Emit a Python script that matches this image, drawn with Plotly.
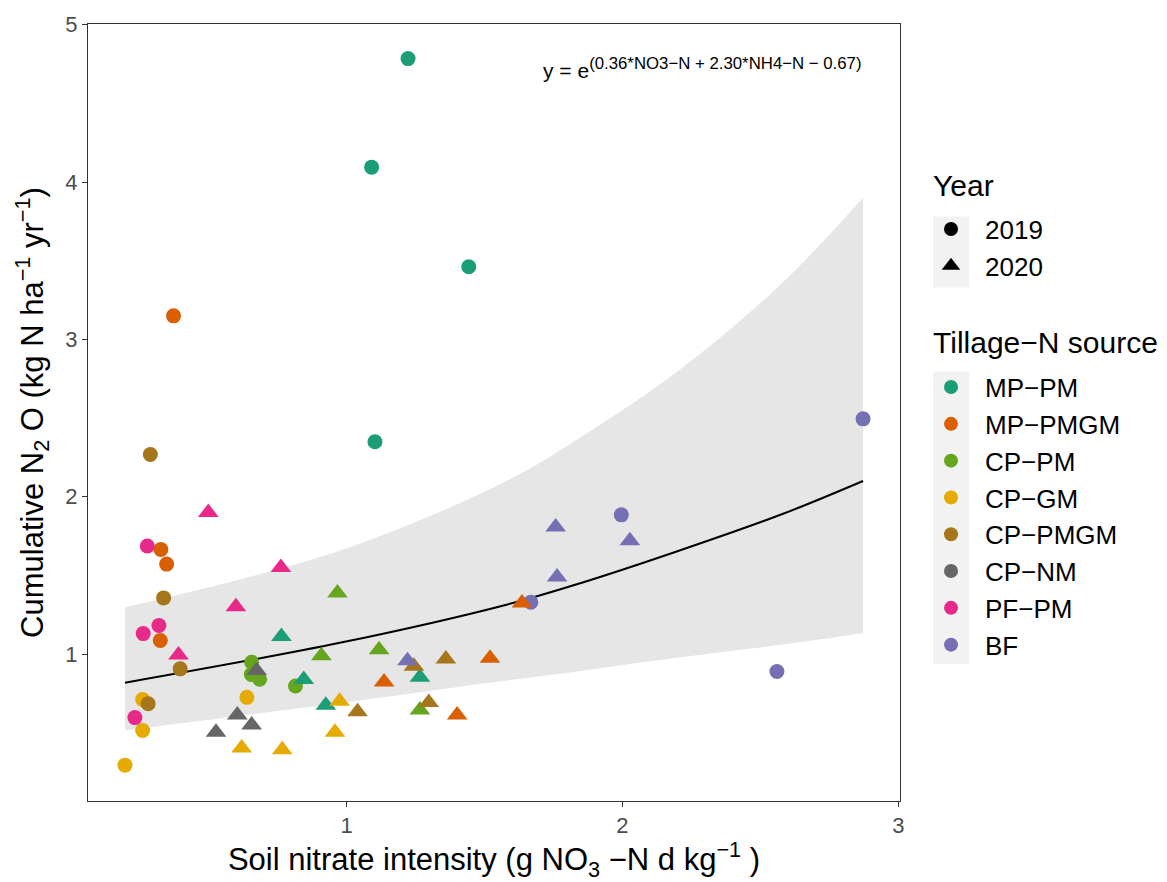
import plotly.graph_objects as go

# ---------------- data ----------------
groups = ["MP\u2212PM", "MP\u2212PMGM", "CP\u2212PM", "CP\u2212GM", "CP\u2212PMGM", "CP\u2212NM", "PF\u2212PM", "BF"]
group_colors = ["#1B9E77", "#D95F02", "#66A61E", "#E6AB02", "#A6761D", "#666666", "#E7298A", "#7570B3"]
years = ["2019", "2020"]

pt_group = (
    ["MP\u2212PM"] * 8 + ["MP\u2212PMGM"] * 8 + ["CP\u2212PM"] * 8 + ["CP\u2212GM"] * 8
    + ["CP\u2212PMGM"] * 8 + ["CP\u2212NM"] * 4 + ["PF\u2212PM"] * 8 + ["BF"] * 8
)
pt_year = (
    ["2019"] * 4 + ["2020"] * 4      # MP-PM
    + ["2019"] * 4 + ["2020"] * 4    # MP-PMGM
    + ["2019"] * 4 + ["2020"] * 4    # CP-PM
    + ["2019"] * 4 + ["2020"] * 4    # CP-GM
    + ["2019"] * 4 + ["2020"] * 4    # CP-PMGM
    + ["2020"] * 4                   # CP-NM
    + ["2019"] * 4 + ["2020"] * 4    # PF-PM
    + ["2019"] * 4 + ["2020"] * 4    # BF
)
nitrate = [
    1.223, 1.091, 1.443, 1.103, 0.764, 0.845, 0.925, 1.266,
    0.373, 0.327, 0.348, 0.325, 1.636, 1.136, 1.520, 1.401,
    0.656, 0.655, 0.685, 0.815, 0.967, 0.909, 1.118, 1.266,
    0.261, 0.639, 0.261, 0.197, 0.620, 0.767, 0.975, 0.958,
    0.289, 0.337, 0.397, 0.281, 1.244, 1.360, 1.040, 1.298,
    0.674, 0.604, 0.656, 0.527,
    0.278, 0.320, 0.263, 0.233, 0.499, 0.762, 0.599, 0.391,
    1.668, 1.996, 2.560, 2.872, 1.758, 1.763, 2.027, 1.221,
]
n2o = [
    4.785, 4.095, 3.462, 2.350, 1.111, 0.838, 0.675, 0.853,
    3.150, 1.665, 1.572, 1.086, 1.325, 0.822, 0.973, 0.612,
    0.948, 0.870, 0.840, 0.797, 1.388, 0.990, 1.027, 0.644,
    0.711, 0.725, 0.514, 0.294, 0.403, 0.392, 0.700, 0.503,
    2.269, 1.357, 0.906, 0.684, 0.922, 0.968, 0.633, 0.692,
    0.895, 0.612, 0.549, 0.503,
    1.687, 1.182, 1.130, 0.596, 1.900, 1.550, 1.300, 0.994,
    1.329, 1.885, 0.889, 2.495, 1.807, 1.490, 1.720, 0.958,
]

# fitted curve and confidence band
fit_x = [0.197, 0.98, 1.58, 1.85, 2.21, 2.58, 2.872]
fit_y = [0.818, 1.073, 1.314, 1.452, 1.660, 1.890, 2.100]
fit_lo = [0.514, 0.690, 0.832, 0.893, 0.979, 1.060, 1.132]
fit_hi = [1.298, 1.660, 2.100, 2.380, 2.810, 3.360, 3.900]

x_ticks = [1, 2, 3]
y_ticks = [1, 2, 3, 4, 5]

FONT = "Liberation Sans, Arial, Helvetica, sans-serif"
symbols = {"2019": "circle", "2020": "triangle-up"}
sizes = {"2019": 15, "2020": 18}

# layout helpers (pixel -> paper)
L, R, T, B = 88, 267, 16, 79
PW, PH = 1167 - L - R, 882 - T - B


def px(x):
    return (x - L) / PW


def py(y):
    return 1 - (y - T) / PH


fig = go.Figure()

# ribbon
fig.add_trace(go.Scatter(x=fit_x, y=fit_lo, mode="lines", line=dict(width=0, shape="spline"),
                         showlegend=False, hoverinfo="skip"))
fig.add_trace(go.Scatter(x=fit_x, y=fit_hi, mode="lines", line=dict(width=0, shape="spline"),
                         fill="tonexty", fillcolor="#E6E6E6", showlegend=False, hoverinfo="skip"))
# fit line
fig.add_trace(go.Scatter(x=fit_x, y=fit_y, mode="lines", line=dict(color="black", width=2, shape="spline"),
                         showlegend=False, hoverinfo="skip"))

# points
for yr in years:
    for g, c in zip(groups, group_colors):
        xs = [x for x, gg, yy in zip(nitrate, pt_group, pt_year) if gg == g and yy == yr]
        ys = [v for v, gg, yy in zip(n2o, pt_group, pt_year) if gg == g and yy == yr]
        if not xs:
            continue
        fig.add_trace(go.Scatter(x=xs, y=ys, mode="markers",
                                 marker=dict(symbol=symbols[yr], size=sizes[yr], color=c,
                                             line=dict(width=0)),
                                 showlegend=False, name=g))

# legend 1: Year
for yr in years:
    fig.add_trace(go.Scatter(x=[None], y=[None], mode="markers", name=yr,
                             marker=dict(symbol=symbols[yr], size=14 if yr == "2019" else 17, color="black"),
                             legend="legend", showlegend=True))
# legend 2: Tillage-N source
for g, c in zip(groups, group_colors):
    fig.add_trace(go.Scatter(x=[None], y=[None], mode="markers", name=g,
                             marker=dict(symbol="circle", size=14, color=c),
                             legend="legend2", showlegend=True))

fig.add_annotation(xref="paper", yref="paper", x=px(541), y=py(61),
                   xanchor="left", yanchor="middle", showarrow=False,
                   text="y = e<sup><span style='font-size:16.8px'>(0.36*NO3\u2212N + 2.30*NH4\u2212N \u2212 0.67)</span></sup>",
                   font=dict(family=FONT, size=21, color="black"))

# legend titles
fig.add_annotation(xref="paper", yref="paper", x=px(931), y=py(180), xanchor="left", yanchor="middle",
                   showarrow=False, text="Year", font=dict(family=FONT, size=30, color="black"))
fig.add_annotation(xref="paper", yref="paper", x=px(931), y=py(339), xanchor="left", yanchor="middle",
                   showarrow=False, text="Tillage\u2212N source", font=dict(family=FONT, size=30, color="black"))

# grey legend key backgrounds
fig.add_shape(type="rect", xref="paper", yref="paper", layer="below",
              x0=px(933), x1=px(969), y0=py(283), y1=py(211),
              fillcolor="#F2F2F2", line=dict(width=0))
fig.add_shape(type="rect", xref="paper", yref="paper", layer="below",
              x0=px(933), x1=px(969), y0=py(664), y1=py(368),
              fillcolor="#F2F2F2", line=dict(width=0))

axis_common = dict(showgrid=False, zeroline=False, showline=True, linecolor="#333333", linewidth=1,
                   mirror=True, ticks="outside", ticklen=5, tickcolor="#333333", tickwidth=1,
                   tickfont=dict(family=FONT, size=22, color="#4D4D4D"))

fig.update_layout(
    width=1167, height=882,
    margin=dict(l=L, r=R, t=T, b=B),
    plot_bgcolor="white", paper_bgcolor="white",
    font=dict(family=FONT),
    xaxis=dict(range=[0.063, 3.006], tickvals=x_ticks,
               title=dict(text="Soil nitrate intensity (g NO<sub>3</sub> \u2212N d kg<sup>\u22121</sup> )",
                          font=dict(family=FONT, size=31, color="black"), standoff=10),
               **axis_common),
    yaxis=dict(range=[0.066, 5.005], tickvals=y_ticks,
               title=dict(text="Cumulative N<sub>2</sub> O (kg N ha<sup>\u22121</sup> yr<sup>\u22121</sup>)",
                          font=dict(family=FONT, size=31, color="black"), standoff=12),
               **axis_common),
    legend=dict(font=dict(family=FONT, size=26, color="black"),
                x=px(917), xanchor="left", y=py(200), yanchor="top",
                bgcolor="rgba(0,0,0,0)", itemsizing="trace", traceorder="normal", itemwidth=58),
    legend2=dict(font=dict(family=FONT, size=26, color="black"),
                 x=px(917), xanchor="left", y=py(360), yanchor="top",
                 bgcolor="rgba(0,0,0,0)", itemsizing="trace", traceorder="normal", itemwidth=58),
)

fig.write_html("out.html")
